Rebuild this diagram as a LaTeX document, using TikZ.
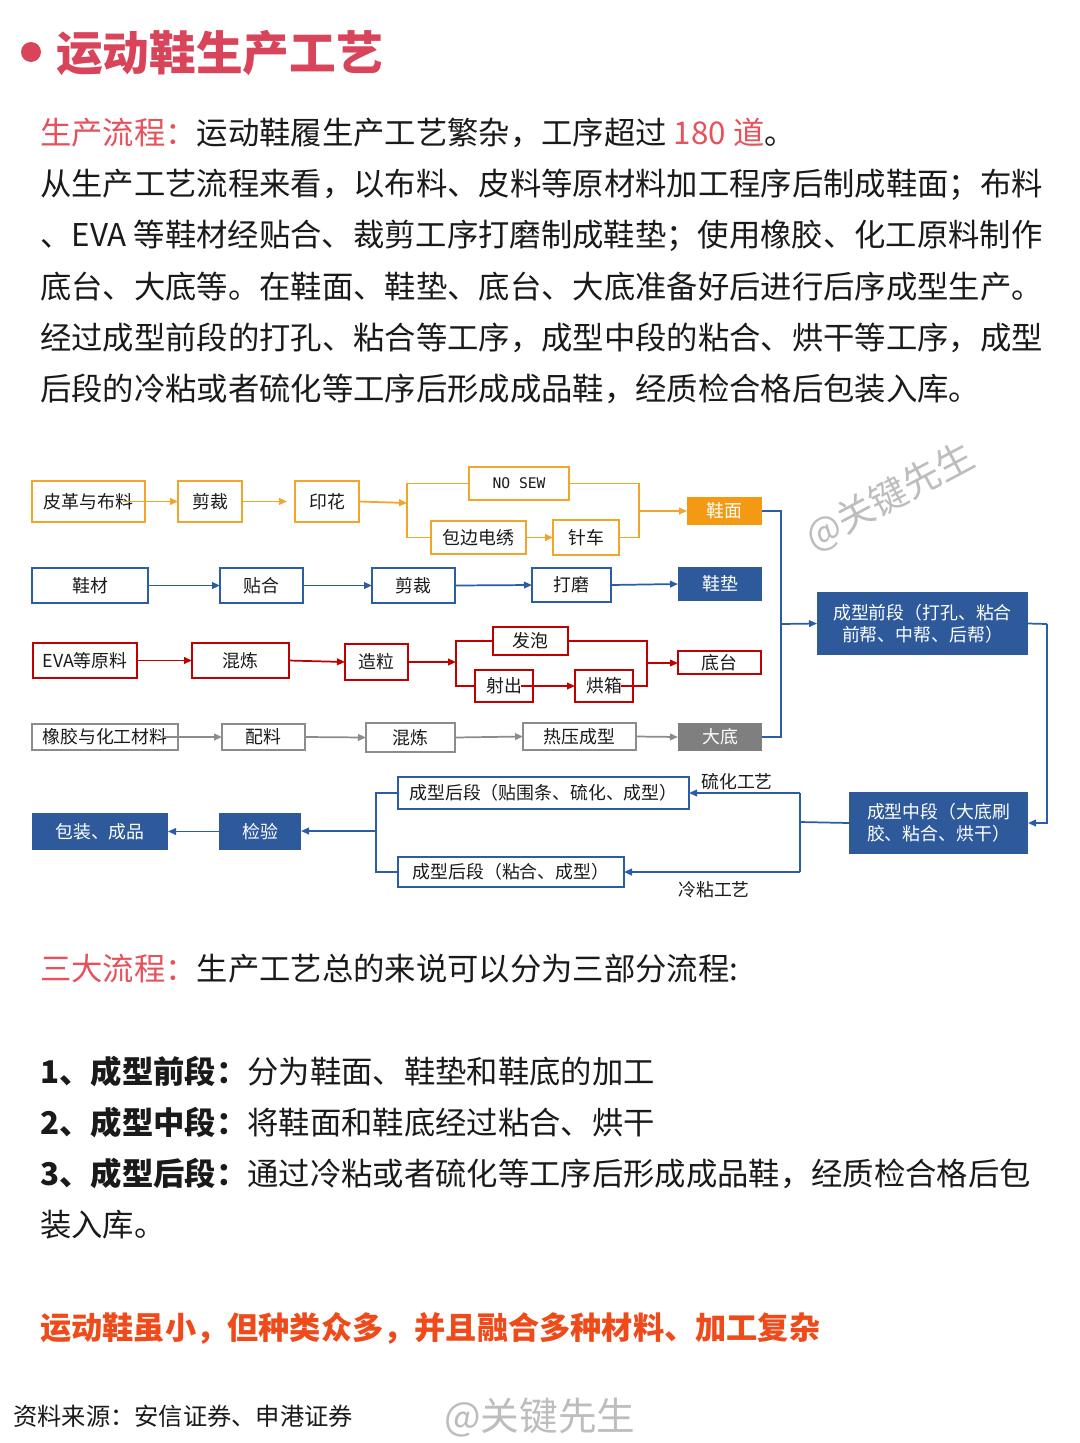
\documentclass[tikz,border=0pt]{standalone}
\usepackage{fontspec}
\setmainfont{Noto Sans CJK SC}
\newfontfamily\monofnt{DejaVu Sans Mono}
\usetikzlibrary{arrows.meta,calc}
\definecolor{titlered}{HTML}{D8445A}
\definecolor{hlred}{HTML}{E8505B}
\definecolor{txt}{HTML}{1A1A1A}
\definecolor{orangeR}{HTML}{EE4A1A}
\definecolor{orng}{HTML}{F2A52A}
\definecolor{orngf}{HTML}{F39A12}
\definecolor{blu}{HTML}{2A5CA8}
\definecolor{bluf}{HTML}{2E5A9C}
\definecolor{rd}{HTML}{C00000}
\definecolor{gryb}{HTML}{8C8C8C}
\definecolor{gryf}{HTML}{7F7F7F}
\definecolor{wm}{HTML}{BDBDBD}
\newcommand\mybox[7]{\node[#6,minimum width={(#4-#2)*0.75pt},minimum height={(#5-#3)*0.75pt}] (#1) at ({(#2+#4)/2},{(#3+#5)/2}) {#7};}
\tikzset{
  body/.style={anchor=west, inner sep=0pt, text=txt, font=\fontsize{23.5}{27}\selectfont},
  boxbase/.style={draw, line width=1.5pt, inner sep=0pt, outer sep=0pt, text=txt, font=\fontsize{13.4}{16.5}\selectfont, align=center},
  obox/.style={boxbase, draw=orng},
  bbox/.style={boxbase, draw=blu},
  rbox/.style={boxbase, draw=rd},
  gbox/.style={boxbase, draw=gryb},
  ofill/.style={boxbase, draw=none, fill=orngf, text=white},
  bfill/.style={boxbase, draw=none, fill=bluf, text=white},
  gfill/.style={boxbase, draw=none, fill=gryf, text=white},
  conn/.style={line width=1.3pt},
  arr/.style={conn, -{Triangle[length=6pt,width=5pt]}},
  lbl/.style={inner sep=0pt, text=txt, font=\fontsize{13.4}{16}\selectfont},
}
\begin{document}
\begin{tikzpicture}[x=0.75pt,y=-0.75pt]
\useasboundingbox[fill=white] (0,0) rectangle (1080,1443);

% ---------- title ----------
\fill[titlered] (31,52) circle (10);
\node[anchor=west, inner sep=0pt, text=titlered, font=\fontsize{35}{40}\selectfont\bfseries] (title) at (56,53) {运动鞋生产工艺};

% ---------- paragraph ----------
\node[body] (p1) at (40,133) {\textcolor{hlred}{生产流程：}运动鞋履生产工艺繁杂，工序超过 \textcolor{hlred}{180 道}。};
\node[body] (p2) at (40,185) {从生产工艺流程来看，以布料、皮料等原材料加工程序后制成鞋面；布料};
\node[body] (p3) at (40,236) {、EVA 等鞋材经贴合、裁剪工序打磨制成鞋垫；使用橡胶、化工原料制作};
\node[body] (p4) at (40,287) {底台、大底等。在鞋面、鞋垫、底台、大底准备好后进行后序成型生产。};
\node[body] (p5) at (40,338) {经过成型前段的打孔、粘合等工序，成型中段的粘合、烘干等工序，成型};
\node[body] (p6) at (40,389) {后段的冷粘或者硫化等工序后形成成品鞋，经质检合格后包装入库。};

% ---------- diagram boxes ----------
\mybox{pg}{32}{481}{145}{522}{obox}{皮革与布料}
\mybox{jc1}{178}{481}{242}{522}{obox}{剪裁}
\mybox{yh}{295}{481}{359}{522}{obox}{印花}
\mybox{ns}{469}{467}{569}{500}{obox}{\monofnt\fontsize{11}{13}\selectfont NO SEW}
\mybox{bbx}{431}{521}{526}{554}{obox}{包边电绣}
\mybox{zc}{553}{520}{619}{555}{obox}{针车}
\mybox{xm}{687}{497}{762}{525}{ofill}{鞋面}

\mybox{xc}{32}{568}{148}{603}{bbox}{鞋材}
\mybox{th}{220}{568}{303}{603}{bbox}{贴合}
\mybox{jc2}{372}{568}{455}{603}{bbox}{剪裁}
\mybox{dm}{532}{568}{611}{602}{bbox}{打磨}
\mybox{xd}{678}{567}{762}{601}{bfill}{鞋垫}

\mybox{eva}{33}{643}{137}{678}{rbox}{EVA等原料}
\mybox{hl1}{192}{643}{289}{678}{rbox}{混炼}
\mybox{zl}{345}{644}{408}{680}{rbox}{造粒}
\mybox{fp}{493}{627}{568}{655}{rbox}{发泡}
\mybox{sc}{475}{670}{533}{702}{rbox}{射出}
\mybox{hx}{575}{670}{633}{702}{rbox}{烘箱}
\mybox{dt}{678}{651}{761}{674}{rbox}{底台}

\mybox{xj}{32}{724}{178}{750}{gbox}{橡胶与化工材料}
\mybox{pl}{222}{724}{305}{750}{gbox}{配料}
\mybox{hl2}{366}{723}{455}{752}{gbox}{混炼}
\mybox{ry}{523}{723}{636}{750}{gbox}{热压成型}
\mybox{dd}{678}{723}{762}{751}{gfill}{大底}

\mybox{qd}{817}{592}{1028}{655}{bfill}{成型前段（打孔、粘合\\前帮、中帮、后帮）}
\mybox{zd}{849}{792}{1028}{854}{bfill}{成型中段（大底刷\\胶、粘合、烘干）}
\mybox{hd1}{398}{777}{689}{809}{bbox}{成型后段（贴围条、硫化、成型）}
\mybox{hd2}{398}{857}{624}{887}{bbox}{成型后段（粘合、成型）}
\mybox{jy}{219}{813}{301}{850}{bfill}{检验}
\mybox{bz}{32}{813}{168}{850}{bfill}{包装、成品}

\node[lbl] (lh) at (737,782) {硫化工艺};
\node[lbl] (ln) at (714,890) {冷粘工艺};

% ---------- junction coordinates ----------
\coordinate (o1) at (407,503);
\coordinate (o2) at (639,511);
\coordinate (r1) at (456,662);
\coordinate (r2) at (647,663);
\coordinate (bv) at (781,624);
\coordinate (rv) at (1047,624);
\coordinate (mj) at (800,822);
\coordinate (lj) at (376,831);

% ---------- orange connectors ----------
\begin{scope}[draw=orng]
\draw[arr] ($(pg.east)+(-22,0)$) -- (jc1.west);
\draw[arr, shorten >=6pt] (jc1.east) -- (yh.west);
\draw[arr] (yh.east) -- (o1);
\draw[conn] (ns.west) -- (ns.west -| o1) -- (bbx.west -| o1) -- (bbx.west);
\draw[arr] (bbx.east) -- (zc.west);
\draw[conn] (ns.east) -- (ns.east -| o2) -- (zc.east -| o2) -- (zc.east);
\draw[arr] (o2) -- (xm.west);
\end{scope}

% ---------- blue row ----------
\begin{scope}[draw=blu]
\draw[arr] (xc.east) -- (th.west);
\draw[arr] (th.east) -- (jc2.west);
\draw[arr] (jc2.east) -- (dm.west);
\draw[arr] (dm.east) -- (xd.west);
\end{scope}

% ---------- red connectors ----------
\begin{scope}[draw=rd]
\draw[arr] (eva.east) -- (hl1.west);
\draw[arr] (hl1.east) -- (zl.west);
\draw[arr] (zl.east |- r1) -- (r1);
\draw[conn] (fp.west) -- (fp.west -| r1) -- (sc.west -| r1) -- (sc.west);
\draw[arr] ($(sc.east)+(-12,0)$) -- (hx.west);
\draw[conn] (fp.east) -- (fp.east -| r2) -- (hx.east -| r2) -- ($(hx.east)+(-12,0)$);
\draw[arr] (r2) -- (dt.west |- r2);
\end{scope}

% ---------- gray connectors ----------
\begin{scope}[draw=gryb]
\draw[arr] ($(xj.east)+(-16,0)$) -- (pl.west);
\draw[arr] (pl.east) -- (hl2.west);
\draw[arr] (hl2.east) -- (ry.west);
\draw[arr] (ry.east) -- (dd.west);
\end{scope}

% ---------- main blue flow ----------
\begin{scope}[draw=blu]
\draw[conn] (xm.east) -- (xm.east -| bv) -- (dd.east -| bv) -- (dd.east);
\draw[arr] (bv) -- (qd.west);
\draw[conn] (qd.east) -- (rv);
\draw[arr] (rv) -- (rv |- zd.east) -- (zd.east);
\draw[conn] (zd.west) -- (mj);
\draw[arr] (mj |- hd1.east) -- (hd1.east);
\draw[conn] (mj |- hd1.east) -- (mj |- hd2.east);
\draw[arr] (mj |- hd2.east) -- (hd2.east);
\draw[conn] (hd1.west) -- (hd1.west -| lj) -- (hd2.west -| lj) -- (hd2.west);
\draw[arr] (lj) -- (jy.east |- lj);
\draw[arr] (jy.west) -- (bz.east);
\end{scope}

% ---------- watermark in diagram ----------
\node[rotate=28, inner sep=0pt, text=wm, font=\fontsize{28}{30}\selectfont] (wm1) at (890,497) {@关键先生};

% ---------- lower text ----------
\node[body] (t1) at (40,969) {\textcolor{hlred}{三大流程：}生产工艺总的来说可以分为三部分流程:};
\node[body] (n1) at (40,1072) {\textbf{1、成型前段：}分为鞋面、鞋垫和鞋底的加工};
\node[body] (n2) at (40,1123) {\textbf{2、成型中段：}将鞋面和鞋底经过粘合、烘干};
\node[body] (n3) at (40,1174) {\textbf{3、成型后段：}通过冷粘或者硫化等工序后形成成品鞋，经质检合格后包};
\node[body] (n4) at (40,1225) {装入库。};
\node[body, text=orangeR, font=\fontsize{23.4}{27}\selectfont\bfseries] (last) at (40,1328) {运动鞋虽小，但种类众多，并且融合多种材料、加工复杂};

\node[anchor=west, inner sep=0pt, text=txt, font=\fontsize{18.2}{21}\selectfont] (src) at (13,1416) {资料来源：安信证券、申港证券};
\node[anchor=west, inner sep=0pt, text=wm, font=\fontsize{29}{32}\selectfont] (wm2) at (444,1418) {@关键先生};
\end{tikzpicture}
\end{document}
